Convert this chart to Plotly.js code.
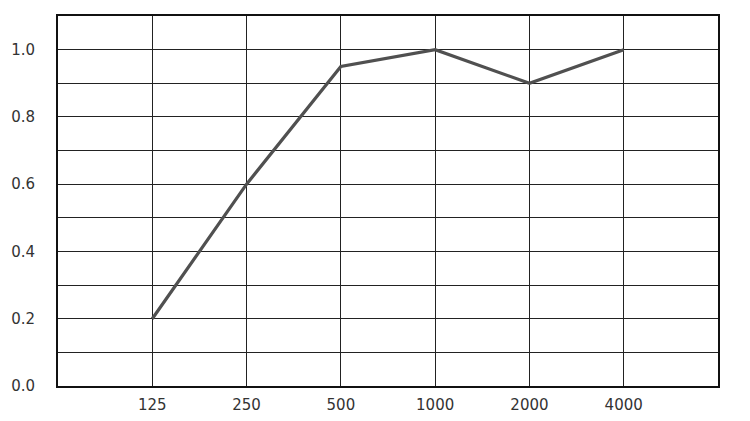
<!DOCTYPE html>
<html>
<head>
<meta charset="utf-8">
<script src="https://cdn.plot.ly/plotly-3.0.1.min.js"></script>
<style>
    html, body { margin: 0; padding: 0; background: #fff; }
    #chart { width: 750px; height: 421px; }
</style>
</head>
<body>
<div id="chart"></div>
<script>
// octave band centre frequencies (Hz) and absorption coefficients
const frequencies = ['125', '250', '500', '1000', '2000', '4000'];
const absorption = [0.2, 0.6, 0.95, 1.0, 0.9, 1.0];
const yTickValues = [0, 0.2, 0.4, 0.6, 0.8, 1.0];
const yTickLabels = ['0.0', '0.2', '0.4', '0.6', '0.8', '1.0'];

const trace = {
    x: frequencies,
    y: absorption,
    type: 'scatter',
    mode: 'lines',
    line: {color: '#505050', width: 3.2},
    hoverinfo: 'skip',
};

const layout = {
    width: 750,
    height: 421,
    margin: {l: 58, r: 32, t: 16, b: 35},
    paper_bgcolor: '#ffffff',
    plot_bgcolor: '#ffffff',
    font: {family: '"DejaVu Sans", sans-serif', size: 15, color: '#333333'},
    showlegend: false,
    xaxis: {
        type: 'category',
        range: [-1, 6],
        showgrid: true,
        gridcolor: '#222222',
        gridwidth: 1,
        showline: true,
        linecolor: '#111111',
        linewidth: 2,
        mirror: true,
        zeroline: false,
        ticks: '',
        ticklabelstandoff: 4,
        fixedrange: true,
    },
    yaxis: {
        range: [0, 1.1],
        tickvals: yTickValues,
        ticktext: yTickLabels,
        showgrid: true,
        gridcolor: '#222222',
        gridwidth: 1,
        minor: {dtick: 0.1, tick0: 0, showgrid: true, gridcolor: '#222222', gridwidth: 1},
        showline: true,
        linecolor: '#111111',
        linewidth: 2,
        mirror: true,
        zeroline: false,
        ticks: '',
        ticklabelstandoff: 18,
        fixedrange: true,
    },
};

Plotly.newPlot('chart', [trace], layout, {displayModeBar: false, staticPlot: true});
</script>
</body>
</html>
